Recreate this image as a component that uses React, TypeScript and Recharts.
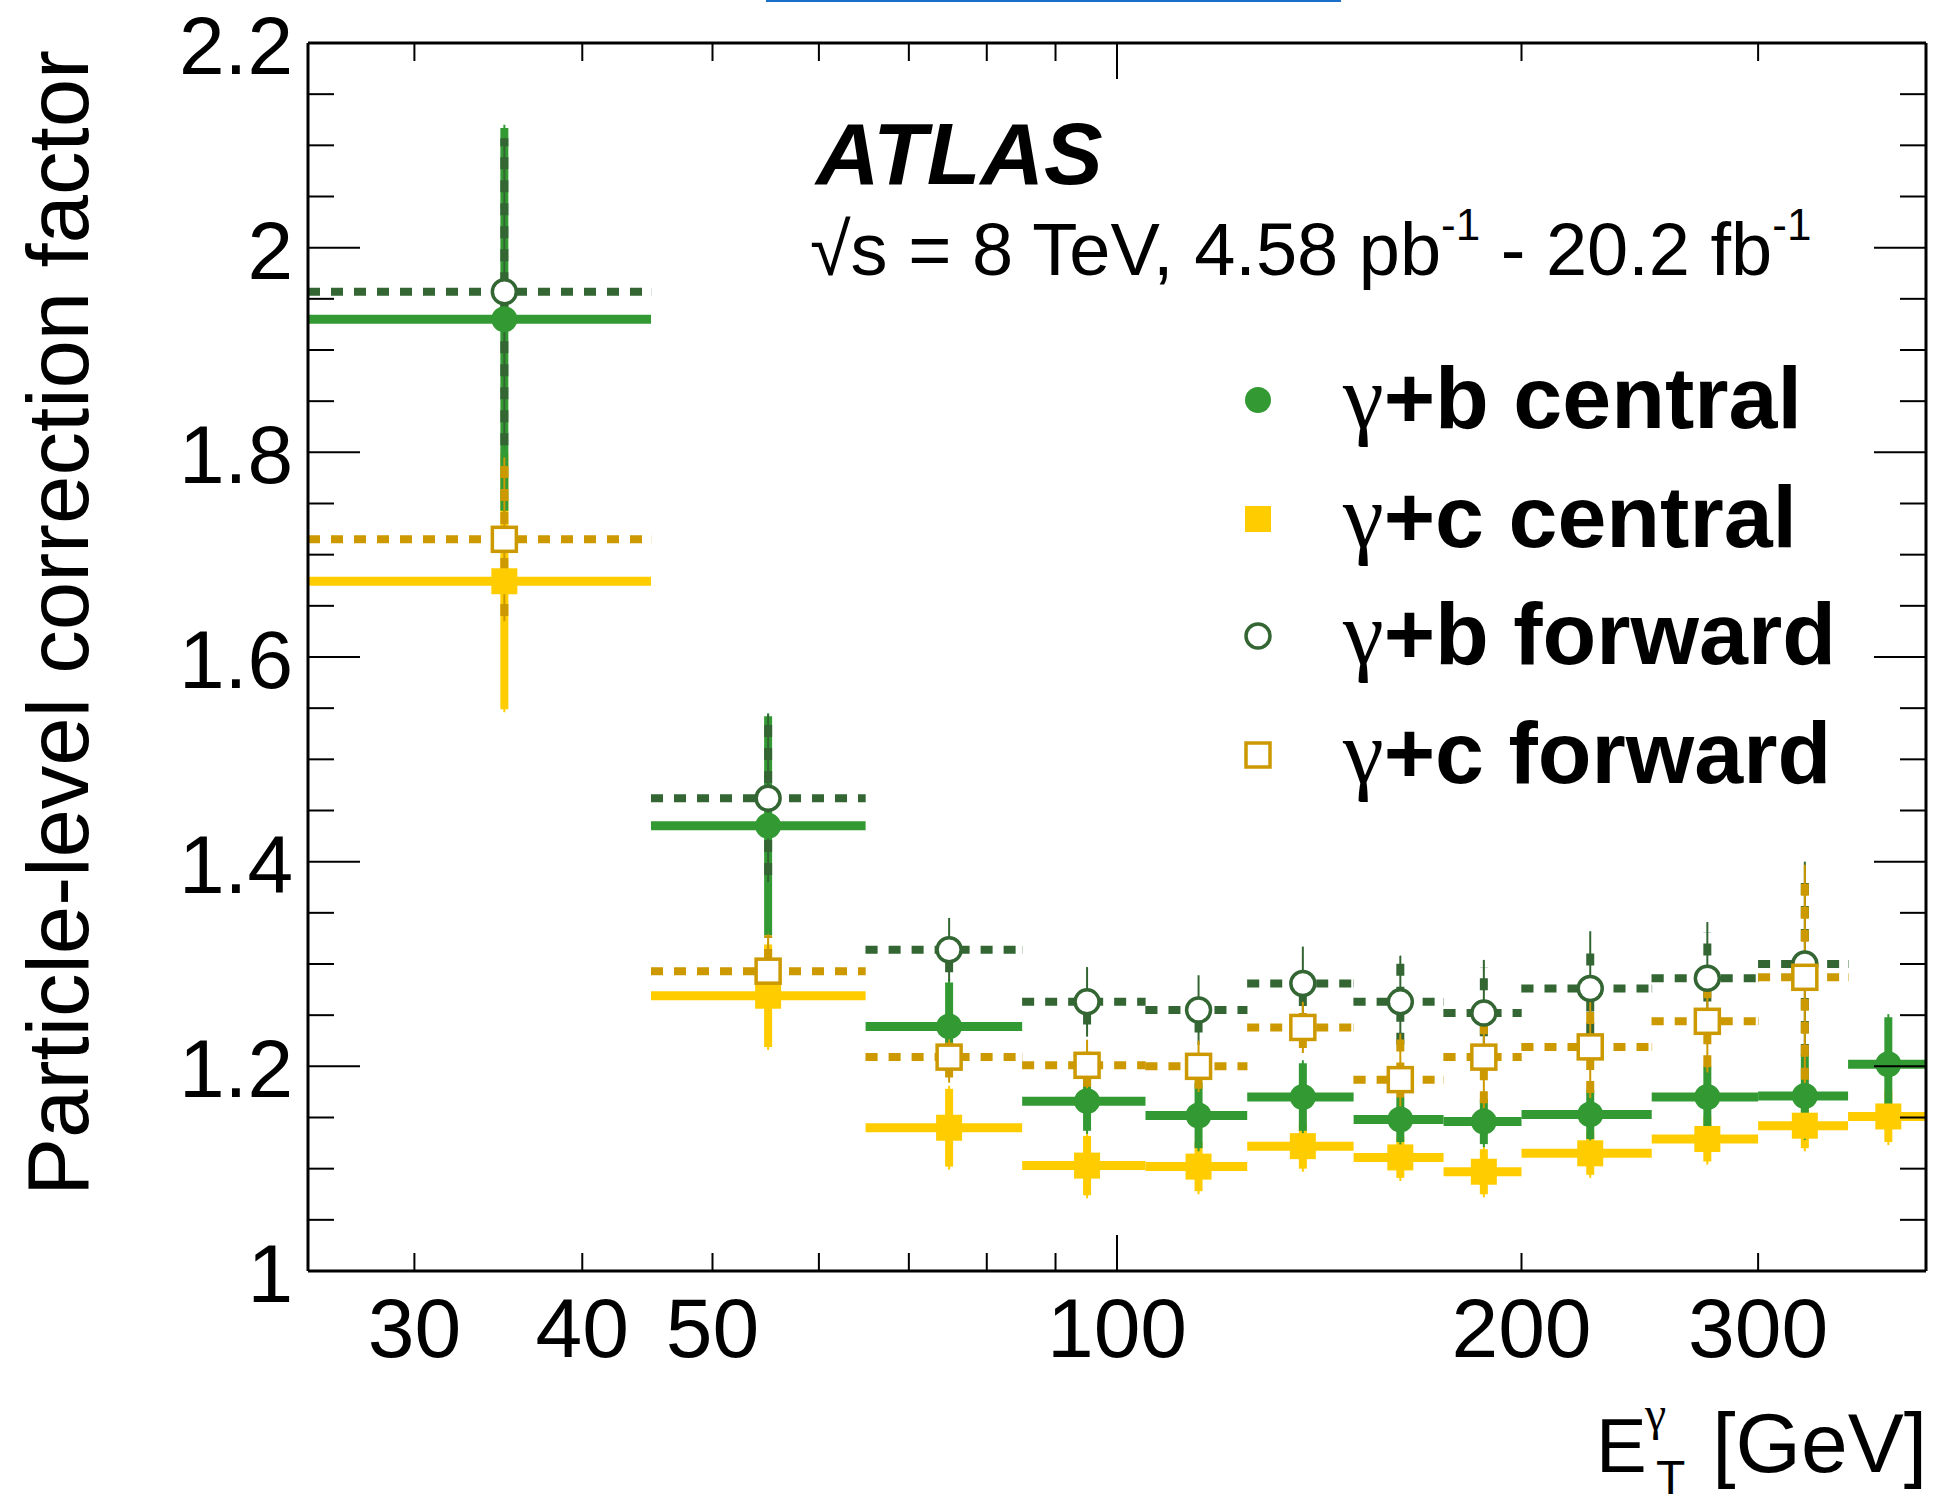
import React from "react";
import { ComposedChart, Scatter, XAxis, YAxis, ErrorBar } from "recharts";

const W = 1941;
const H = 1507;
const FONT = "'Liberation Sans', Arial, Helvetica, sans-serif";
const GREEK = "'Liberation Serif', 'DejaVu Serif', serif";

const GREEN = "#339933";
const DARK_GREEN = "#336633";
const YELLOW = "#ffcc00";
const GOLD = "#cc9900";

// E_T bin edges [GeV]
const binEdges = [25, 45, 65, 85, 105, 125, 150, 175, 200, 250, 300, 350, 400];

// correction factors
const bCentral = [1.93, 1.435, 1.239, 1.166, 1.152, 1.17, 1.148, 1.146, 1.153, 1.17, 1.171, 1.202];
const bCentralErr = [0.187, 0.107, 0.043, 0.029, 0.032, 0.033, 0.022, 0.022, 0.024, 0.03, 0.04, 0.046];
const bCentralTot = [0.19, 0.11, 0.046, 0.032, 0.035, 0.036, 0.025, 0.025, 0.027, 0.033, 0.043, 0.049];

const cCentral = [1.674, 1.269, 1.14, 1.103, 1.102, 1.122, 1.111, 1.097, 1.115, 1.129, 1.142, 1.151];
const cCentralErr = [0.125, 0.05, 0.038, 0.029, 0.024, 0.022, 0.02, 0.022, 0.021, 0.022, 0.022, 0.025];
const cCentralTot = [0.128, 0.053, 0.041, 0.032, 0.027, 0.025, 0.023, 0.025, 0.024, 0.025, 0.025, 0.028];

const bForward = [1.957, 1.462, 1.314, 1.263, 1.255, 1.281, 1.263, 1.252, 1.276, 1.286, 1.3];
const bForwardErr = [0.15, 0.075, 0.022, 0.022, 0.022, 0.022, 0.042, 0.045, 0.045, 0.045, 0.09];
const bForwardTot = [0.15, 0.082, 0.031, 0.034, 0.034, 0.036, 0.045, 0.052, 0.056, 0.055, 0.1];

const cForward = [1.715, 1.293, 1.209, 1.201, 1.2, 1.238, 1.187, 1.209, 1.219, 1.244, 1.287];
const cForwardErr = [0.075, 0.035, 0.02, 0.021, 0.022, 0.02, 0.04, 0.045, 0.045, 0.045, 0.1];
const cForwardTot = [0.08, 0.036, 0.025, 0.025, 0.025, 0.025, 0.045, 0.05, 0.05, 0.05, 0.11];

const seriesNames = ["+b central", "+c central", "+b forward", "+c forward"];

const xTicks = [30, 40, 50, 60, 70, 80, 90, 100, 200, 300];
const xTickLabels = [30, 40, 50, 100, 200, 300];
const xMajorTicks = [100];
const yTickLabels = [1, 1.2, 1.4, 1.6, 1.8, 2, 2.2];
const yTicks: number[] = [];
for (let i = 0; i <= 24; i++) yTicks.push(Math.round((1 + i * 0.05) * 100) / 100);

function toPoints(values: number[], err: number[], tot: number[]) {
  return values.map((y, i) => {
    const lo = binEdges[i];
    const hi = binEdges[i + 1];
    const x = (lo + hi) / 2;
    return { x, y, ex: [x - lo, hi - x], ey: err[i], et: tot[i] };
  });
}

const series = [
  { name: "cc", data: toPoints(cCentral, cCentralErr, cCentralTot), color: YELLOW, dashed: false, kind: "square" },
  { name: "bc", data: toPoints(bCentral, bCentralErr, bCentralTot), color: GREEN, dashed: false, kind: "circle" },
  { name: "bf", data: toPoints(bForward, bForwardErr, bForwardTot), color: DARK_GREEN, dashed: true, kind: "openCircle" },
  { name: "cf", data: toPoints(cForward, cForwardErr, cForwardTot), color: GOLD, dashed: true, kind: "openSquare" },
];

function Marker({ cx, cy, kind, color }: any) {
  if (cx == null || cy == null) return null;
  if (kind === "circle") return <circle cx={cx} cy={cy} r={13} fill={color} />;
  if (kind === "square") return <rect x={cx - 13} y={cy - 13} width={26} height={26} fill={color} />;
  if (kind === "openCircle")
    return <circle cx={cx} cy={cy} r={12} fill="#fff" stroke={color} strokeWidth={3.5} />;
  return <rect x={cx - 12} y={cy - 12} width={24} height={24} fill="#fff" stroke={color} strokeWidth={3.5} />;
}

const isMajorY = (v: number) => yTickLabels.some((t) => Math.abs(t - v) < 1e-6);

function BottomTick({ x, y, payload }: any) {
  const v = payload.value;
  const len = xMajorTicks.includes(v) ? 36 : 18;
  return (
    <g>
      <line x1={x} y1={y} x2={x} y2={y - len} stroke="#000" strokeWidth={2} />
      {xTickLabels.includes(v) && (
        <text x={x} y={y + 86} textAnchor="middle" fontSize={84} fontFamily={FONT} fill="#000">
          {v}
        </text>
      )}
    </g>
  );
}

function TopTick({ x, y, payload }: any) {
  const len = xMajorTicks.includes(payload.value) ? 36 : 18;
  return <line x1={x} y1={y} x2={x} y2={y + len} stroke="#000" strokeWidth={2} />;
}

function LeftTick({ x, y, payload }: any) {
  const v = payload.value;
  const major = isMajorY(v);
  return (
    <g>
      <line x1={x} y1={y} x2={x + (major ? 52 : 26)} y2={y} stroke="#000" strokeWidth={2} />
      {major && (
        <text x={x - 15} y={y + 31} textAnchor="end" fontSize={82} fontFamily={FONT} fill="#000">
          {String(Math.round(v * 10) / 10)}
        </text>
      )}
    </g>
  );
}

function RightTick({ x, y, payload }: any) {
  const major = isMajorY(payload.value);
  return <line x1={x} y1={y} x2={x - (major ? 52 : 26)} y2={y} stroke="#000" strokeWidth={2} />;
}

const legendRows = [
  { kind: "circle", color: GREEN, y: 400 },
  { kind: "square", color: YELLOW, y: 519 },
  { kind: "openCircle", color: DARK_GREEN, y: 636 },
  { kind: "openSquare", color: GOLD, y: 755 },
];

function Overlay() {
  return (
    <svg
      width={W}
      height={H}
      style={{ position: "absolute", left: 0, top: 0, pointerEvents: "none" }}
      fontFamily={FONT}
    >
      <line x1={766} y1={1} x2={1341} y2={1} stroke="#1a6fc9" strokeWidth={2} />
      <text
        transform="translate(88,50) rotate(-90)"
        textAnchor="end"
        fontSize={87}
        fill="#000"
      >
        Particle-level correction factor
      </text>
      <text x={1596} y={1472} fontSize={76} fill="#000">E</text>
      <text x={1656} y={1494} fontSize={48} fill="#000">T</text>
      <text x={1645} y={1430} fontSize={48} fontFamily={GREEK} fill="#000">γ</text>
      <text x={1927} y={1472} fontSize={84} textAnchor="end" fill="#000">[GeV]</text>

      <text x={816} y={184} fontSize={88} fontWeight="bold" fontStyle="italic" fill="#000">
        ATLAS
      </text>
      <text x={810} y={275} fontSize={74} fill="#000">
        √s = 8 TeV, 4.58 pb
        <tspan fontSize={44} dy={-35}>-1</tspan>
        <tspan dy={35}> - 20.2 fb</tspan>
        <tspan fontSize={44} dy={-35}>-1</tspan>
      </text>

      {legendRows.map((r, i) => (
        <g key={i}>
          <Marker cx={1258} cy={r.y} kind={r.kind} color={r.color} />
          <text x={1343} y={r.y + 28} fontSize={88} fill="#000">
            <tspan fontFamily={GREEK} fontSize={92}>γ</tspan>
            <tspan fontWeight="bold">{seriesNames[i]}</tspan>
          </text>
        </g>
      ))}
    </svg>
  );
}

const axisLine = { stroke: "#000", strokeWidth: 3 };

export default function App() {
  return (
    <div style={{ position: "absolute", left: 0, top: 0, width: W, height: H, background: "#fff" }}>
      <ComposedChart
        width={W}
        height={H}
        margin={{ top: 42, right: 14, bottom: 235, left: 307 }}
      >
        <XAxis
          xAxisId="main"
          dataKey="x"
          type="number"
          scale="log"
          domain={[25, 400]}
          allowDataOverflow
          ticks={xTicks}
          interval={0}
          height={1}
          tickSize={0}
          tickMargin={0}
          tickLine={false}
          tick={<BottomTick />}
          axisLine={axisLine}
        />
        <XAxis
          xAxisId="top"
          orientation="top"
          dataKey="x"
          type="number"
          scale="log"
          domain={[25, 400]}
          allowDataOverflow
          ticks={xTicks}
          interval={0}
          height={1}
          tickSize={0}
          tickMargin={0}
          tickLine={false}
          tick={<TopTick />}
          axisLine={axisLine}
        />
        <YAxis
          yAxisId="main"
          dataKey="y"
          type="number"
          domain={[1, 2.2]}
          allowDataOverflow
          ticks={yTicks}
          interval={0}
          width={1}
          tickSize={0}
          tickMargin={0}
          tickLine={false}
          tick={<LeftTick />}
          axisLine={axisLine}
        />
        <YAxis
          yAxisId="right"
          orientation="right"
          dataKey="y"
          type="number"
          domain={[1, 2.2]}
          allowDataOverflow
          ticks={yTicks}
          interval={0}
          width={1}
          tickSize={0}
          tickMargin={0}
          tickLine={false}
          tick={<RightTick />}
          axisLine={axisLine}
        />
        {series.map((s) => (
          <Scatter
            key={s.name}
            xAxisId="main"
            yAxisId="main"
            data={s.data}
            dataKey="y"
            isAnimationActive={false}
            shape={(p: any) => <Marker cx={p.cx} cy={p.cy} kind={s.kind} color={s.color} />}
          >
            <ErrorBar
              dataKey="et"
              direction="y"
              width={0}
              stroke={s.color}
              strokeWidth={2}
              isAnimationActive={false}
            />
            <ErrorBar
              dataKey="ey"
              direction="y"
              width={0}
              stroke={s.color}
              strokeWidth={8}
              strokeDasharray={s.dashed ? "12 11" : undefined}
              isAnimationActive={false}
            />
            <ErrorBar
              dataKey="ex"
              direction="x"
              width={0}
              stroke={s.color}
              strokeWidth={s.dashed ? 8 : 9}
              strokeDasharray={s.dashed ? "12 11" : undefined}
              isAnimationActive={false}
            />
          </Scatter>
        ))}
      </ComposedChart>
      <Overlay />
    </div>
  );
}
